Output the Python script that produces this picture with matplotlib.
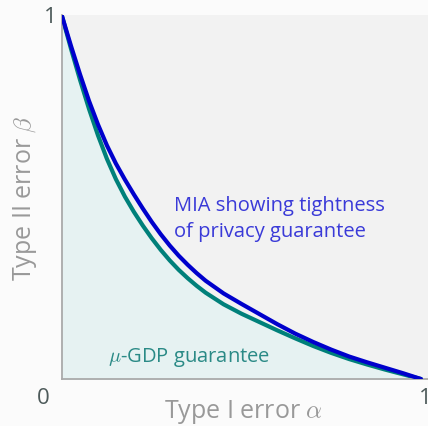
import matplotlib.pyplot as plt

plt.rcParams['font.family'] = ['Open Sans', 'DejaVu Sans']
plt.rcParams['mathtext.fontset'] = 'cm'

# points (type I error alpha, type II error beta)
alpha = [0.0, 0.025, 0.05, 0.075, 0.1, 0.125, 0.15, 0.175, 0.2, 0.225, 0.25, 0.275,
         0.3, 0.325, 0.35, 0.375, 0.4, 0.45, 0.5, 0.55, 0.6, 0.65, 0.7, 0.75, 0.8,
         0.85, 0.9, 0.95, 1.0]
gdp_beta = [1.0, 0.91, 0.825, 0.745, 0.672, 0.607, 0.551, 0.503, 0.461, 0.423, 0.388,
            0.356, 0.327, 0.301, 0.278, 0.257, 0.238, 0.206, 0.180, 0.157, 0.134, 0.112,
            0.091, 0.072, 0.055, 0.040, 0.026, 0.013, 0.0]
mia_beta = [1.0, 0.918, 0.840, 0.767, 0.702, 0.644, 0.594, 0.550, 0.509, 0.470, 0.433,
            0.399, 0.368, 0.340, 0.315, 0.292, 0.271, 0.236, 0.207, 0.179, 0.151, 0.125,
            0.102, 0.081, 0.062, 0.046, 0.031, 0.016, 0.0]

fig = plt.figure(figsize=(4.28, 4.27), dpi=100)
fig.patch.set_facecolor('#fbfbfb')
ax = fig.add_axes([0.145, 0.110, 0.855, 0.852])
ax.set_facecolor('#f2f2f2')

ax.fill_between(alpha, gdp_beta, 0, color='#e6f2f2', zorder=1)
ax.plot(alpha, gdp_beta, color='#00807a', lw=3, zorder=2, solid_capstyle='round')
ax.plot(alpha, mia_beta, color='#0000cc', lw=3, zorder=3, solid_capstyle='round')

ax.set_xlim(0, 1.0195)
ax.set_ylim(0, 1.003)
ax.set_xticks([])
ax.set_yticks([])
for s in ['top', 'right']:
    ax.spines[s].set_visible(False)
for s in ['left', 'bottom']:
    ax.spines[s].set_color('#aaaaaa')
    ax.spines[s].set_linewidth(1.3)

tick_col = '#4d5a5a'
ax.text(-0.053, -0.05, '0', fontsize=16, color=tick_col, ha='center', va='center', clip_on=False)
ax.text(-0.033, 1.0, '1', fontsize=16, color=tick_col, ha='center', va='center', clip_on=False)
ax.text(1.011, -0.05, '1', fontsize=16, color=tick_col, ha='center', va='center', clip_on=False)

ax.text(0.495, -0.088, r'Type I error $\alpha$', fontsize=18, color='#999999',
        ha='center', va='center', transform=ax.transAxes)
ax.text(-0.101, 0.5, r'Type II error $\beta$', fontsize=18, color='#999999',
        ha='center', va='center', rotation=90, transform=ax.transAxes)

ax.text(0.312, 0.444, 'MIA showing tightness\nof privacy guarantee', fontsize=14.5,
        color='#3a3ad8', ha='left', va='center', linespacing=1.4)
ax.text(0.128, 0.063, r'$\mu$-GDP guarantee', fontsize=14.5, color='#2a8a86',
        ha='left', va='center')

fig.savefig('out.png', dpi=100, facecolor=fig.get_facecolor())
